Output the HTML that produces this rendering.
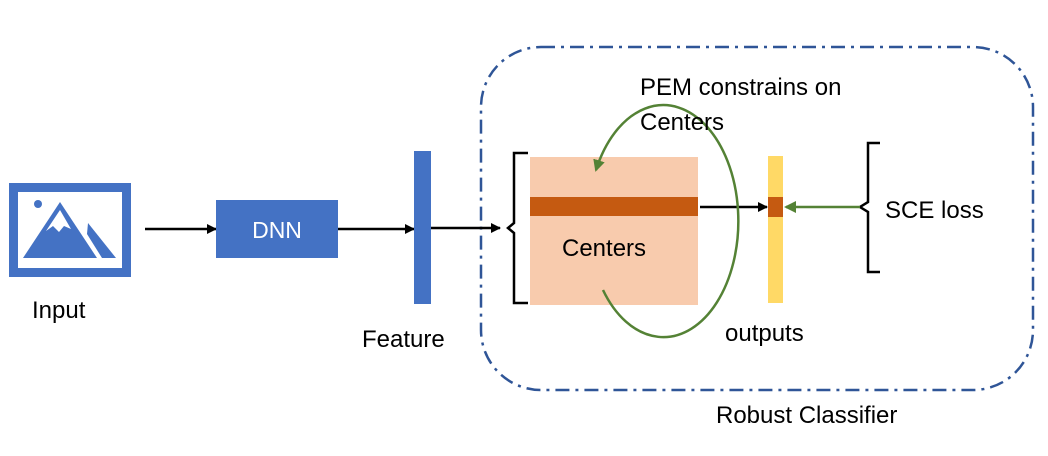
<!DOCTYPE html>
<html><head><meta charset="utf-8"><style>
body{margin:0;background:#fff;}
svg{display:block;font-family:"Liberation Sans",sans-serif;}
</style></head><body>
<svg width="1048" height="456" viewBox="0 0 1048 456" xmlns="http://www.w3.org/2000/svg">
<defs>
<marker id="ab" markerWidth="10" markerHeight="10" refX="9" refY="5" orient="auto" markerUnits="userSpaceOnUse"><path d="M0,0 L10,5 L0,10 z" fill="#000"/></marker>
<marker id="ag" markerWidth="12" markerHeight="12" refX="10" refY="6" orient="auto" markerUnits="userSpaceOnUse"><path d="M0,0 L12,6 L0,12 z" fill="#548235"/></marker>
</defs>
<rect x="481" y="47" width="552" height="343" rx="60" fill="none" stroke="#2f5597" stroke-width="2.5" stroke-dasharray="14,6,3,6"/>
<!-- input icon -->
<rect x="9" y="183" width="122" height="94" fill="#4472c4"/>
<rect x="18" y="192" width="104" height="76" fill="#fff"/>
<circle cx="38" cy="204" r="4" fill="#4472c4"/>
<path d="M23,258 L60,202 L97,258 Z" fill="#4472c4"/>
<path d="M46,231 L60,210 L71,229 L64,226 L59,232 L53,226 Z" fill="#fff"/>
<path d="M88,223 L116,258 L102,258 L87,234 Z" fill="#4472c4"/>
<text x="32" y="318" font-size="24">Input</text>
<line x1="145" y1="229" x2="216" y2="229" stroke="#000" stroke-width="2.5" marker-end="url(#ab)"/>
<rect x="216" y="200" width="122" height="58" fill="#4472c4"/>
<text x="277" y="238" font-size="23" fill="#fff" text-anchor="middle">DNN</text>
<line x1="338" y1="229" x2="414" y2="229" stroke="#000" stroke-width="2.5" marker-end="url(#ab)"/>
<rect x="414" y="151" width="17" height="153" fill="#4472c4"/>
<text x="362" y="347" font-size="24">Feature</text>
<line x1="431" y1="228" x2="500" y2="228" stroke="#000" stroke-width="2.5" marker-end="url(#ab)"/>
<path d="M528,153 L514,153 L514,223 L508,228 L514,233 L514,303 L528,303" fill="none" stroke="#000" stroke-width="2.5"/>
<rect x="530" y="157" width="168" height="148" fill="#f8cbad"/>
<rect x="530" y="197" width="168" height="19" fill="#c55a11"/>
<text x="562" y="256" font-size="24">Centers</text>
<line x1="700" y1="207" x2="767" y2="207" stroke="#000" stroke-width="2.5" marker-end="url(#ab)"/>
<rect x="768" y="156" width="15" height="147" fill="#ffd966"/>
<rect x="768" y="197" width="15" height="20" fill="#c55a11"/>
<text x="725" y="341" font-size="24">outputs</text>
<path d="M880,143 L868,143 L868,202 L860,207 L868,212 L868,272 L880,272" fill="none" stroke="#000" stroke-width="2.5"/>
<line x1="860" y1="207" x2="786" y2="207" stroke="#548235" stroke-width="2.5" marker-end="url(#ag)"/>
<text x="885" y="218" font-size="24">SCE loss</text>
<path d="M603,290 A75 116 0 1 0 596,170" fill="none" stroke="#548235" stroke-width="2.5" marker-end="url(#ag)"/>
<text x="640" y="95" font-size="24">PEM constrains on</text>
<text x="640" y="130" font-size="24">Centers</text>
<text x="716" y="423" font-size="24">Robust Classifier</text>
</svg>
</body></html>
